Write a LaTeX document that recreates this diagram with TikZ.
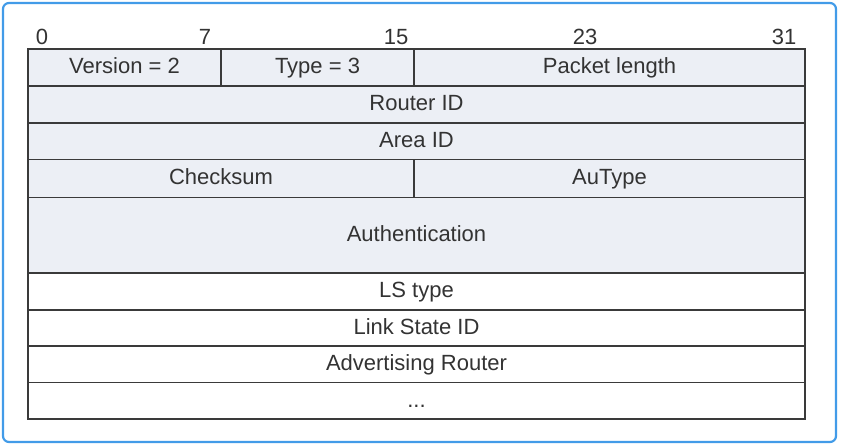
\documentclass[tikz,border=0pt]{standalone}
\usepackage{fontspec}
\setmainfont{Liberation Sans}
\usepackage{tikz}
\definecolor{framecol}{RGB}{66,155,232}
\definecolor{headfill}{RGB}{236,239,245}
\definecolor{linecol}{RGB}{58,58,58}
\definecolor{textcol}{RGB}{51,51,51}
\tikzset{
    every node/.style={inner sep=0pt, outer sep=0pt, text=textcol,
    	font=\fontsize{22}{26}\selectfont, text height=15.75pt, text depth=3pt}
}
\tikzset{
    field/.style={draw=linecol, line width=1.4pt, rectangle},
    headfield/.style={field, fill=headfill},
    bitnum/.style={anchor=base, text height=, text depth=}
}

\begin{document}
\begin{tikzpicture}[x=1pt, y=-1pt]
  \useasboundingbox (0,0) rectangle (841,447);
  \draw[framecol, line width=2.2pt, rounded corners=6pt] (3,3) rectangle (836,442);

  \node (b0) [bitnum] at (42,44.5) {0};
  \node (b7) [bitnum] at (205,44.5) {7};
  \node (b15) [bitnum] at (396,44.5) {15};
  \node (b23) [bitnum] at (585,44.5) {23};
  \node (b31) [bitnum] at (784,44.5) {31};

  \node (ver) [headfield, minimum width=193pt, minimum height=37pt] at (124.5,67.5) {Version = 2};
  \node (typ) [headfield, minimum width=193pt, minimum height=37pt] at (317.5,67.5) {Type = 3};
  \node (len) [headfield, minimum width=391pt, minimum height=37pt] at (609.5,67.5) {Packet length};
  \node (rid) [headfield, minimum width=777pt, minimum height=37pt] at (416.5,104.5) {Router ID};
  \node (aid) [headfield, minimum width=777pt, minimum height=36.5pt] at (416.5,141.25) {Area ID};
  \node (chk) [headfield, minimum width=386pt, minimum height=38pt] at (221,178.5) {Checksum};
  \node (aut) [headfield, minimum width=391pt, minimum height=38pt] at (609.5,178.5) {AuType};
  \node (auth) [headfield, minimum width=777pt, minimum height=75.5pt] at (416.5,235.25) {Authentication};

  \node (lst) [field, fill=white, minimum width=777pt, minimum height=37pt] at (416.5,291.5) {LS type};
  \node (lsid) [field, fill=white, minimum width=777pt, minimum height=36pt] at (416.5,328) {Link State ID};
  \node (adv) [field, fill=white, minimum width=777pt, minimum height=36.5pt] at (416.5,364.25) {Advertising Router};
  \node (more) [field, fill=white, minimum width=777pt, minimum height=36.5pt] at (416.5,400.75) {...};
\end{tikzpicture}
\end{document}
